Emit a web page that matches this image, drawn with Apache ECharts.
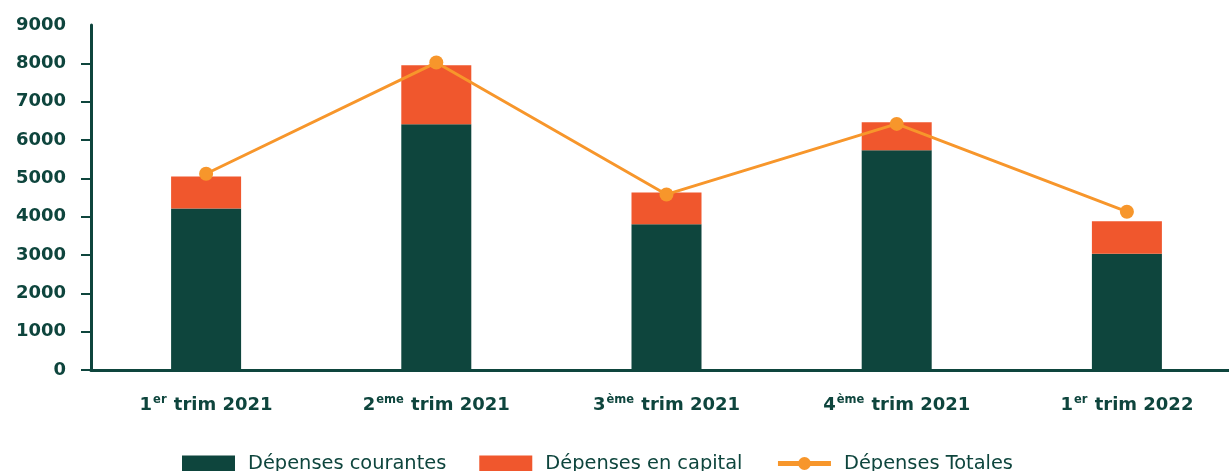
<!DOCTYPE html>
<html><head><meta charset="utf-8">
<script src="https://cdn.jsdelivr.net/npm/echarts@6/dist/echarts.min.js"></script>
<style>html,body{margin:0;padding:0;background:#fff}#c{width:1229px;height:471px}</style>
</head><body><div id="c"></div>
<script>
const categories = ['1er trim 2021', '2eme trim 2021', '3ème trim 2021', '4ème trim 2021', '1er trim 2022'];
const courantes = [4210, 6410, 3800, 5730, 3030];
const capital = [840, 1540, 830, 730, 850];
const totales = [5120, 8020, 4580, 6420, 4130];
const yTicks = [0, 1000, 2000, 3000, 4000, 5000, 6000, 7000, 8000, 9000];
const yTickMarks = [0, 1000, 2000, 3000, 4000, 5000, 6000, 7000, 8000];

const DARK = '#0E453D', RED = '#F0572D', ORANGE = '#F7962B';
const chart = echarts.init(document.getElementById('c'));
chart.setOption({
  animation: false,
  textStyle: { fontFamily: 'DejaVu Sans', color: DARK },
  grid: { left: 91, width: 1151, top: 25, bottom: 101, containLabel: false, outerBoundsMode: 'none' },
  legend: {
    left: 182, top: 454, itemWidth: 53, itemHeight: 16, itemGap: 33, padding: 0,
    textStyle: { fontSize: 19.4, color: DARK, fontFamily: 'DejaVu Sans', padding: [0, 0, 0, 8] },
    data: [
      { name: 'Dépenses courantes', icon: 'rect' },
      { name: 'Dépenses en capital', icon: 'rect' },
      { name: 'Dépenses Totales', lineStyle: { width: 5 } }
    ]
  },
  xAxis: {
    type: 'category', data: categories,
    axisLine: { lineStyle: { color: DARK, width: 3 } },
    axisTick: { show: false },
    axisLabel: {
      margin: 24, interval: 0,
      formatter: function (v) {
        const m = v.match(/^(\d)(\S+) (.*)$/);
        return '{b|' + m[1] + '}{s|' + m[2] + '}{b| ' + m[3] + '}';
      },
      rich: {
        b: { fontSize: 18, fontWeight: 'bold', color: DARK, fontFamily: 'DejaVu Sans', lineHeight: 22 },
        s: { fontSize: 11.5, fontWeight: 'bold', color: DARK, fontFamily: 'DejaVu Sans', verticalAlign: 'top', lineHeight: 22, padding: [0, 1, 0, 1] }
      }
    }
  },
  yAxis: {
    type: 'value', min: 0, max: 9000, interval: 1000,
    axisLine: { show: true, lineStyle: { color: DARK, width: 3 } },
    axisTick: { show: true, length: 10, customValues: yTickMarks, lineStyle: { color: DARK, width: 2 } },
    splitLine: { show: false },
    axisLabel: {
      margin: 25, fontSize: 18, fontWeight: 'bold', color: DARK, fontFamily: 'DejaVu Sans',
      customValues: yTicks,
      formatter: function (v) { return String(v); }
    }
  },
  series: [
    { name: 'Dépenses courantes', type: 'bar', stack: 't', data: courantes, barWidth: 70, itemStyle: { color: DARK } },
    { name: 'Dépenses en capital', type: 'bar', stack: 't', data: capital, barWidth: 70, itemStyle: { color: RED } },
    { name: 'Dépenses Totales', type: 'line', data: totales, z: 5, symbol: 'circle', symbolSize: 14,
      lineStyle: { color: ORANGE, width: 3 }, itemStyle: { color: ORANGE } }
  ]
});
</script></body></html>
